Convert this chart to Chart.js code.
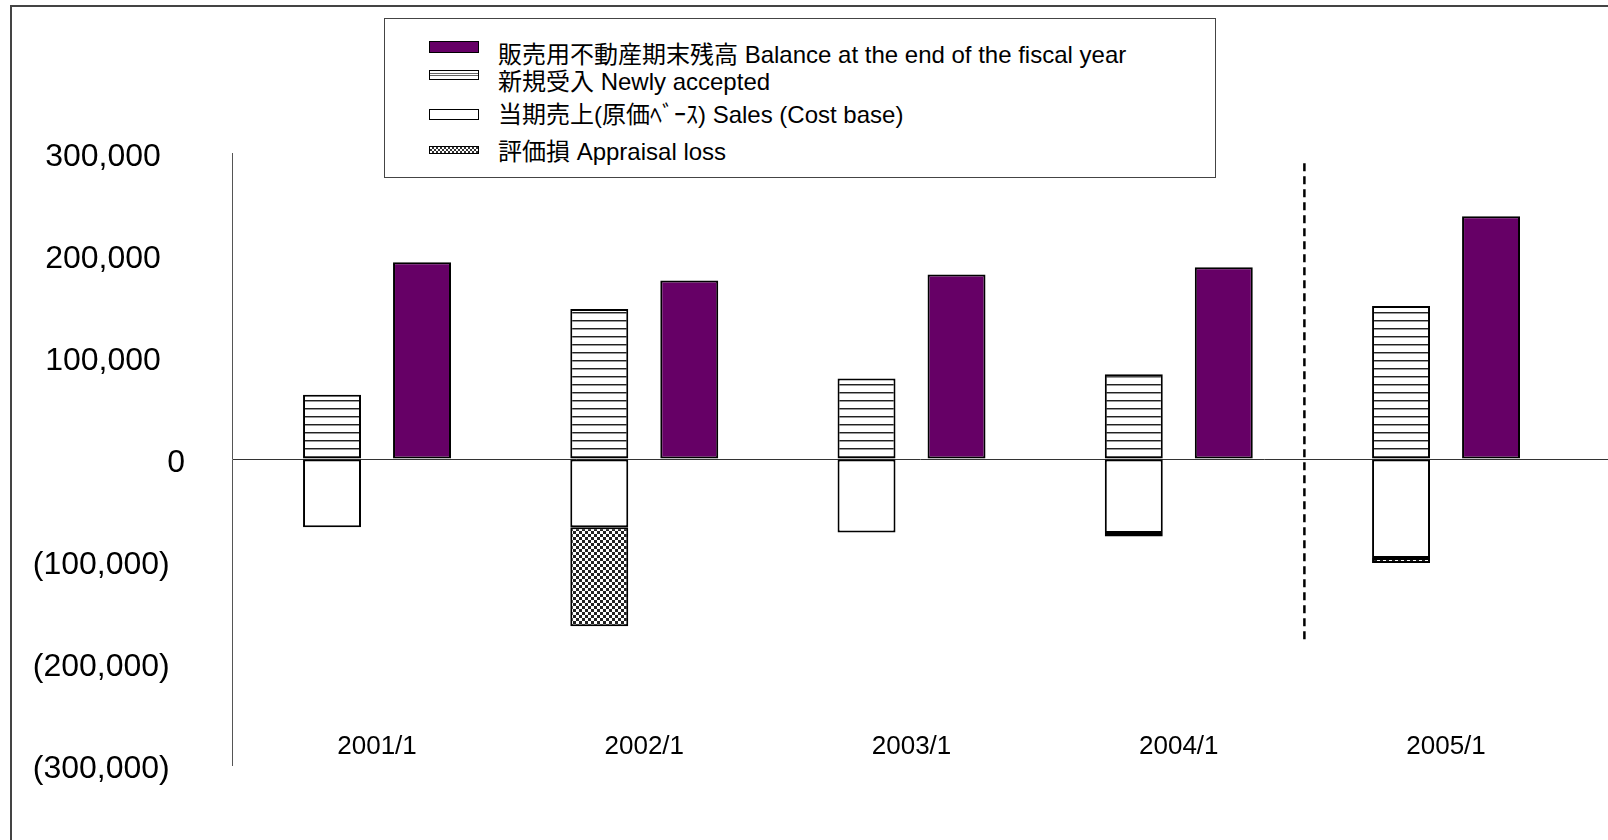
<!DOCTYPE html>
<html>
<head>
<meta charset="utf-8">
<title>販売用不動産</title>
<script src="https://cdn.jsdelivr.net/npm/chart.js@4.4.1/dist/chart.umd.min.js"></script>
<style>
body { margin: 0; background: #fff; }
#wrap { position: relative; width: 1608px; height: 840px; overflow: hidden; font-family: "Liberation Sans", Arial, "Noto Sans CJK JP", sans-serif; }
#frame { position: absolute; left: 10px; top: 5px; width: 1700px; height: 900px; border-left: 2px solid #444; border-top: 2px solid #444; }
#chart { position: absolute; left: 0; top: 0; }
#legend { position: absolute; left: 384px; top: 18px; width: 830px; height: 158px; border: 1px solid #444; background: #fff; }
.sw { position: absolute; left: 44px; width: 50px; box-sizing: border-box; border: 1.5px solid #000; }
.lt { position: absolute; left: 113px; font-size: 24px; line-height: 24px; white-space: nowrap; color: #000; }
</style>
</head>
<body>
<div id="wrap">
  <div id="frame"></div>
  <canvas id="chart" width="1608" height="840"></canvas>
  <div id="legend"></div>
</div>
<script>
const categories = ['2001/1', '2002/1', '2003/1', '2004/1', '2005/1'];
const balanceEnd = [193000, 175000, 181000, 188000, 238000];
const newlyAccepted = [63000, 147000, 79000, 83000, 150000];
const salesCost = [-67000, -67000, -72000, -72500, -97000];
const appraisalLoss = [null, -97000, null, -3500, -5000];
const yTicks = [-300000, -200000, -100000, 0, 100000, 200000, 300000];
const seriesNames = [
    '販売用不動産期末残高 Balance at the end of the fiscal year',
    '新規受入 Newly accepted',
    '当期売上(原価ﾍﾞｰｽ) Sales (Cost base)',
    '評価損 Appraisal loss'
];
// dashed separator between actual and plan
const separatorAt = 3.47;
const separatorTop = 290000;
const separatorBottom = -178000;

const canvas = document.getElementById('chart');
const mainCtx = canvas.getContext('2d');

function makePattern(w, h, draw) {
    const c = document.createElement('canvas');
    c.width = w; c.height = h;
    const g = c.getContext('2d');
    g.fillStyle = '#fff';
    g.fillRect(0, 0, w, h);
    draw(g);
    return mainCtx.createPattern(c, 'repeat');
}
const hatch = makePattern(8, 8, g => {
    g.fillStyle = '#222'; g.fillRect(0, 0, 8, 1);
    g.fillStyle = '#999'; g.fillRect(0, 1, 8, 1);
});
const checker = makePattern(6, 6, g => {
    g.fillStyle = '#222';
    g.fillRect(0, 0, 3, 3);
    g.fillRect(3, 3, 3, 3);
});

function toXY(arr) {
    return arr.map((v, i) => ({ x: i, y: v }));
}

// excel style #,##0_);(#,##0)
function fmtY(v) {
    const s = Math.abs(v).toLocaleString('en-US');
    if (v > 0) return s + '  \u2009';
    if (v < 0) return '(' + s + ') \u2009';
    return '0';
}

const barCommon = {
    borderColor: '#000',
    borderWidth: 2,
    borderSkipped: false,
    barPercentage: 0.644,
    categoryPercentage: 0.6735
};

const separatorPlugin = {
    id: 'separator',
    afterDatasetsDraw(chart) {
        const { ctx, scales: { x, y } } = chart;
        const px = x.getPixelForValue(separatorAt);
        ctx.save();
        ctx.strokeStyle = '#000';
        ctx.lineWidth = 2.5;
        ctx.setLineDash([8, 5]);
        ctx.beginPath();
        ctx.moveTo(px, y.getPixelForValue(separatorTop));
        ctx.lineTo(px, y.getPixelForValue(separatorBottom));
        ctx.stroke();
        ctx.restore();
    }
};

Chart.defaults.font.family = '"Liberation Sans", Arial, sans-serif';
Chart.defaults.color = '#000';

new Chart(mainCtx, {
    type: 'bar',
    data: {
        datasets: [
            { ...barCommon, label: seriesNames[1], data: toXY(newlyAccepted), backgroundColor: hatch, stack: 'flow' },
            { ...barCommon, label: seriesNames[2], data: toXY(salesCost), backgroundColor: '#fff', stack: 'flow' },
            { ...barCommon, label: seriesNames[3], data: toXY(appraisalLoss), backgroundColor: checker, stack: 'flow' },
            { ...barCommon, label: seriesNames[0], data: toXY(balanceEnd), backgroundColor: '#660066', stack: 'balance' }
        ]
    },
    options: {
        responsive: false,
        animation: false,
        devicePixelRatio: 1,
        layout: { padding: { top: 153, left: 0, right: 0, bottom: 75 } },
        plugins: { legend: { display: false }, tooltip: { enabled: false } },
        scales: {
            x: {
                type: 'linear',
                offset: false,
                min: -0.5426,
                max: 4.606,
                afterFit: s => { s.height = 0; },
                afterBuildTicks: s => { s.ticks = categories.map((c, i) => ({ value: i })); },
                grid: { display: false, drawTicks: false },
                border: { display: false },
                ticks: {
                    autoSkip: false,
                    maxRotation: 0,
                    mirror: true,
                    padding: 3,
                    font: { size: 26 },
                    callback: v => categories[v]
                }
            },
            y: {
                stacked: true,
                min: yTicks[0],
                max: yTicks[yTicks.length - 1],
                afterFit: s => { s.width = 232; },
                afterBuildTicks: s => { s.ticks = yTicks.map(v => ({ value: v })); },
                border: { display: true, color: '#555', width: 1 },
                grid: {
                    drawTicks: false,
                    lineWidth: 1,
                    color: c => (c.tick && c.tick.value === 0) ? '#333' : 'rgba(0,0,0,0)'
                },
                ticks: { padding: 47, labelOffset: 4, font: { size: 32 }, callback: fmtY }
            }
        }
    },
    plugins: [separatorPlugin]
});

// legend box
const legendRows = [
    { text: seriesNames[0], textTop: 24, swTop: 22, swH: 12, bg: '#660066' },
    { text: seriesNames[1], textTop: 51, swTop: 51, swH: 10, bg: 'linear-gradient(#fff 0 2px, #666 2px 3px, #fff 3px 4px, #666 4px 5px, #fff 5px)' },
    { text: seriesNames[2], textTop: 84, swTop: 90, swH: 11, bg: '#fff' },
    { text: seriesNames[3], textTop: 121, swTop: 127, swH: 8, bg: 'conic-gradient(#333 25%, #fff 0 50%, #333 0 75%, #fff 0) 0 0/4px 4px' }
];
const legend = document.getElementById('legend');
legendRows.forEach(r => {
    const sw = document.createElement('div');
    sw.className = 'sw';
    sw.style.top = r.swTop + 'px';
    sw.style.height = r.swH + 'px';
    sw.style.background = r.bg;
    const t = document.createElement('div');
    t.className = 'lt';
    t.style.top = r.textTop + 'px';
    t.textContent = r.text;
    legend.appendChild(sw);
    legend.appendChild(t);
});
</script>
</body>
</html>
